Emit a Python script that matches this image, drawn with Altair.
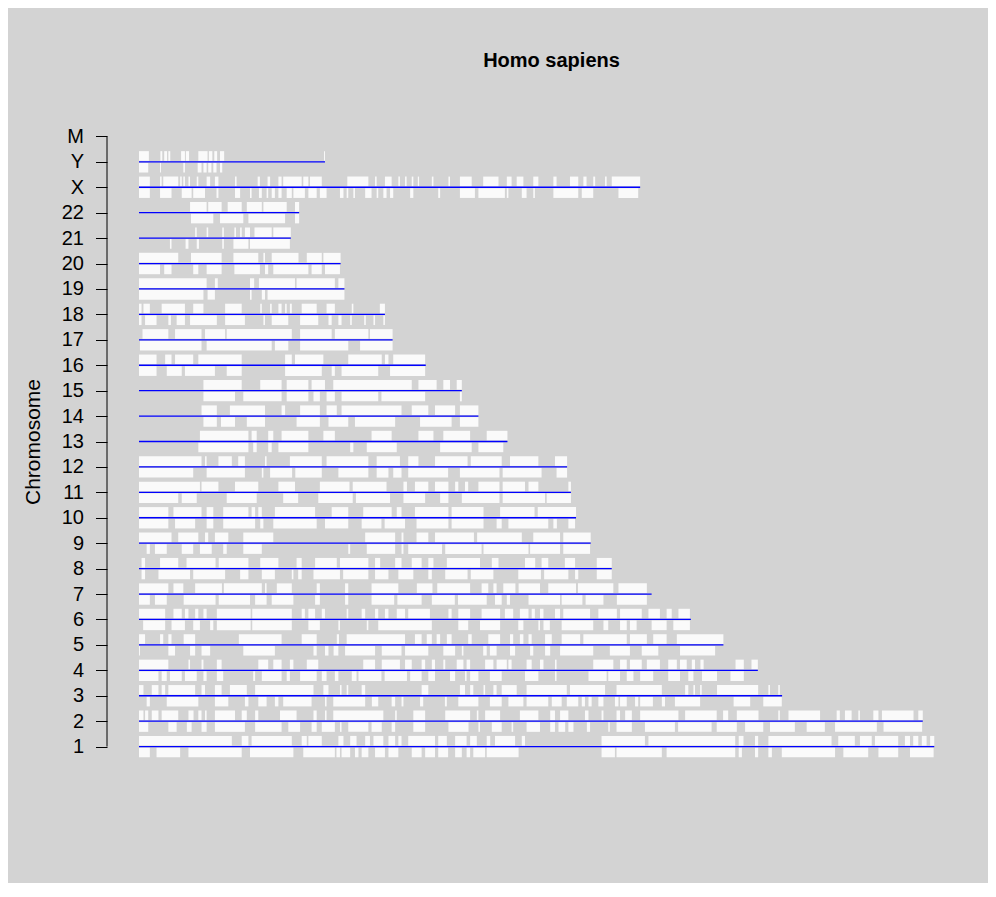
import altair as alt
import pandas as pd

# ---------------- data (positions in Mb) ----------------
chromosomes = ["1", "2", "3", "4", "5", "6", "7", "8", "9", "10", "11", "12",
               "13", "14", "15", "16", "17", "18", "19", "20", "21", "22", "X", "Y", "M"]
chrom_length_mb = [249.3, 245.7, 201.6, 194.0, 183.2, 173.0, 160.7, 148.2, 141.6, 137.0,
                   135.4, 134.2, 115.5, 106.4, 101.2, 89.9, 79.5, 77.1, 64.4, 63.2,
                   47.6, 50.2, 157.1, 58.3, 0.02]

plus_1 = [(0, 29.1), (32.2, 34.3), (35.3, 47.9), (51.0, 52.6), (53.1, 57.3), (62.5, 64.1), (66.2, 68.2),
          (70.9, 72.4), (73.5, 76.6), (78.2, 80.3), (81.3, 82.3), (84.4, 92.8), (93.8, 96.5), (99.1, 102.7),
          (103.8, 105.9), (109.0, 110.1), (111.6, 117.9), (120.0, 121.0), (145.0, 158.6), (159.7, 186.9),
          (188.0, 189.5), (193.1, 194.1), (197.3, 217.1), (219.2, 224.4), (226.0, 229.7), (230.7, 238.0),
          (240.1, 241.7), (242.7, 244.3), (245.4, 246.9), (248.0, 249.3)]
minus_1 = [(0, 3.4), (5.5, 12.9), (15.5, 32.2), (34.8, 48.4), (51.5, 61.4), (61.9, 63.0), (63.5, 66.2),
           (67.7, 68.8), (69.8, 71.9), (74.0, 77.1), (78.2, 81.3), (85.5, 88.6), (89.7, 92.8), (93.8, 96.9),
           (99.1, 101.2), (102.7, 103.8), (104.8, 108.5), (109.0, 119.0), (145.0, 149.2), (149.7, 163.9),
           (165.4, 186.9), (188.0, 189.0), (193.1, 194.1), (197.3, 198.4), (201.5, 218.2), (220.8, 228.6),
           (231.8, 238.0), (241.7, 249.1)]

plus_2 = [(0, 1.4), (1.9, 2.9), (4.0, 6.1), (7.1, 12.3), (15.5, 17.1), (18.6, 19.6), (20.7, 21.2), (23.8, 30.1),
          (32.2, 33.8), (36.4, 37.4), (44.2, 49.4), (54.7, 55.7), (58.3, 58.8), (60.9, 76.6), (80.3, 80.8),
          (86.0, 89.7), (96.0, 103.8), (105.9, 106.4), (108.5, 113.2), (119.4, 125.2), (128.9, 130.4),
          (132.0, 134.6), (139.8, 140.9), (145.0, 145.6), (149.7, 150.8), (152.4, 154.5), (157.1, 169.1),
          (171.2, 181.1), (183.1, 184.7), (187.4, 194.2), (200.4, 200.9), (203.6, 213.5), (218.7, 219.7),
          (221.3, 223.4), (225.5, 226.0), (230.2, 231.8), (232.9, 242.8), (244.3, 245.7)]
minus_2 = [(0, 2.9), (9.2, 11.8), (15.0, 16.5), (19.6, 21.2), (23.8, 33.2), (36.4, 44.7), (46.8, 50.5),
           (54.1, 55.7), (57.3, 61.4), (63.0, 63.5), (65.6, 71.9), (72.9, 76.1), (79.2, 80.3), (86.0, 89.7),
           (97.0, 103.3), (106.4, 106.9), (110.6, 113.7), (116.8, 117.3), (121.5, 125.7), (128.9, 130.4),
           (131.5, 133.6), (134.6, 136.2), (140.4, 141.4), (147.1, 147.6), (149.7, 154.5), (158.6, 168.0),
           (169.0, 179.5), (181.1, 187.4), (190.0, 195.7), (197.8, 205.6), (209.3, 215.0), (218.2, 231.3),
           (233.4, 245.5)]

plus_3 = [(0, 1.4), (4.0, 6.1), (7.1, 8.2), (9.2, 17.6), (19.6, 20.7), (23.8, 25.9), (28.5, 33.8), (36.4, 54.7),
          (57.8, 59.4), (63.0, 63.5), (65.1, 65.6), (69.8, 70.9), (88.6, 90.7), (100.6, 102.2), (103.8, 104.8),
          (108.0, 108.5), (111.1, 112.1), (113.7, 118.4), (121.5, 134.1), (135.1, 146.1), (149.7, 163.9),
          (171.2, 172.2), (173.8, 174.3), (175.9, 176.4), (181.2, 194.1), (197.3, 197.8), (200.4, 200.9)]
minus_3 = [(2.4, 3.4), (8.7, 18.6), (23.8, 28.0), (33.2, 34.3), (37.4, 40.0), (42.6, 43.7), (45.2, 54.1),
           (58.3, 58.8), (60.9, 70.9), (73.0, 75.0), (79.2, 80.3), (82.3, 82.9), (88.1, 89.1), (95.9, 96.5),
           (100.1, 106.4), (110.0, 113.7), (115.8, 120.5), (121.5, 128.3), (129.4, 132.5), (134.1, 137.7),
           (138.8, 139.8), (140.9, 141.9), (144.0, 145.6), (149.2, 150.3), (150.8, 152.9), (155.5, 156.5),
           (157.1, 161.1), (163.9, 164.9), (168.0, 175.9), (186.4, 191.6), (195.7, 201.5)]

plus_4 = [(0, 9.2), (15.5, 16.0), (19.6, 20.2), (24.4, 25.9), (37.4, 40.5), (42.1, 44.7), (47.3, 48.4),
          (52.6, 56.2), (70.3, 74.0), (76.1, 81.8), (83.4, 85.5), (88.6, 89.7), (91.8, 92.8), (95.4, 96.0),
          (99.6, 101.7), (102.7, 103.8), (108.5, 111.1), (112.1, 115.3), (115.8, 116.8), (121.5, 123.1),
          (125.7, 126.8), (130.4, 130.9), (142.4, 148.7), (150.8, 152.9), (153.9, 157.6), (159.2, 163.3),
          (165.9, 168.6), (169.6, 171.7), (173.3, 174.3), (176.0, 177.0), (187.0, 189.6), (192.0, 194.0)]
minus_4 = [(0, 6.1), (7.1, 8.7), (9.7, 13.4), (14.4, 18.1), (20.2, 21.2), (24.4, 26.4), (35.8, 36.4),
           (38.5, 44.7), (46.3, 47.3), (50.5, 55.7), (57.3, 58.8), (61.4, 62.5), (66.7, 68.2), (68.8, 76.0),
           (77.0, 84.0), (85.0, 88.6), (90.7, 92.8), (97.5, 99.1), (102.2, 102.7), (103.8, 106.4),
           (110.0, 113.7), (121.0, 125.2), (130.4, 130.9), (140.9, 146.6), (147.1, 150.8), (152.9, 155.0),
           (157.1, 161.2), (165.9, 169.6), (172.2, 173.8), (176.5, 181.2), (185.4, 189.6)]

plus_5 = [(0, 1.9), (6.6, 7.6), (9.2, 10.2), (14.0, 17.6), (31.3, 44.7), (51.0, 55.7), (62.0, 62.7),
          (65.1, 83.4), (86.5, 88.6), (90.2, 91.8), (93.3, 94.4), (96.5, 98.0), (103.2, 104.3), (109.5, 113.2),
          (116.3, 117.3), (119.4, 120.5), (122.1, 123.1), (127.3, 129.4), (132.5, 138.3), (139.3, 152.9),
          (153.9, 159.2), (161.2, 165.4), (168.6, 183.2)]
minus_5 = [(0, 0.3), (9.2, 11.3), (16.0, 17.6), (19.6, 22.3), (32.7, 42.6), (54.7, 55.7), (58.3, 59.4),
           (61.0, 62.5), (64.6, 74.0), (76.1, 82.3), (83.4, 90.7), (95.4, 99.1), (101.2, 101.7), (107.9, 109.0),
           (110.0, 112.1), (116.3, 117.9), (122.6, 123.6), (127.3, 128.9), (132.0, 142.4), (147.6, 153.9),
           (157.6, 162.8), (169.6, 180.6)]

plus_6 = [(0, 8.2), (10.8, 13.4), (14.4, 15.5), (17.6, 18.6), (20.2, 21.2), (24.4, 35.0), (35.5, 47.9),
          (51.0, 52.0), (53.1, 55.2), (57.3, 58.3), (65.1, 65.6), (69.8, 70.9), (74.0, 75.0), (77.1, 78.2),
          (80.8, 83.4), (84.4, 91.2), (97.0, 98.0), (100.1, 103.8), (107.4, 113.2), (114.7, 117.3),
          (119.4, 122.1), (123.1, 124.1), (125.7, 126.8), (130.4, 132.0), (133.0, 141.4), (144.0, 149.8),
          (150.8, 157.6), (159.7, 163.3), (165.4, 167.0), (169.1, 172.7)]
minus_6 = [(1.3, 8.2), (10.2, 14.4), (17.0, 19.1), (22.3, 23.3), (24.4, 35.0), (35.5, 47.9), (53.1, 56.7),
           (62.5, 63.0), (71.4, 71.9), (75.0, 91.8), (100.1, 103.2), (106.9, 113.2), (118.9, 120.5),
           (125.2, 125.7), (126.8, 128.8), (132.5, 142.4), (145.6, 147.1), (150.8, 152.9), (153.9, 156.0),
           (160.7, 165.4), (167.5, 172.7)]

plus_7 = [(0, 9.2), (10.8, 13.9), (17.6, 26.0), (26.6, 38.5), (39.5, 40.0), (43.2, 47.9), (55.7, 56.7),
          (64.6, 65.6), (72.9, 81.3), (87.1, 92.0), (93.5, 103.8), (107.4, 109.5), (111.1, 112.1),
          (114.2, 118.0), (119.0, 125.7), (128.3, 137.0), (137.6, 148.7), (150.3, 159.2)]
minus_7 = [(0, 3.4), (5.0, 8.7), (14.0, 24.0), (25.0, 34.8), (36.4, 40.0), (41.6, 48.4), (55.2, 56.7),
           (64.6, 65.6), (72.9, 80.0), (81.0, 88.6), (91.8, 99.0), (100.0, 109.0), (111.6, 113.7),
           (115.3, 116.3), (122.1, 132.0), (132.5, 139.0), (140.0, 145.6), (149.8, 159.2)]

plus_8 = [(0.8, 1.9), (6.6, 12.3), (14.9, 24.0), (25.0, 34.3), (38.0, 43.7), (49.4, 51.0), (55.2, 62.0),
          (63.0, 71.9), (74.0, 75.6), (80.3, 82.3), (85.5, 88.6), (90.7, 92.3), (96.5, 106.9), (110.6, 112.7),
          (121.0, 124.2), (126.2, 128.3), (133.5, 136.7), (143.5, 148.2)]
minus_8 = [(0.8, 1.9), (6.1, 16.0), (17.0, 27.0), (31.7, 34.3), (38.5, 42.6), (47.9, 48.4), (49.9, 51.0),
           (54.7, 63.0), (64.0, 71.9), (74.0, 78.2), (81.3, 86.0), (90.7, 91.8), (96.0, 103.0), (104.0, 111.1),
           (118.9, 126.0), (127.0, 134.6), (136.7, 137.7), (143.5, 148.2)]

plus_9 = [(0, 10.2), (12.3, 18.6), (20.7, 21.7), (23.8, 28.0), (32.7, 42.1), (70.9, 80.3), (82.3, 82.9),
          (87.0, 90.7), (92.8, 105.0), (106.0, 120.0), (123.6, 132.0), (133.0, 141.6)]
minus_9 = [(2.4, 3.4), (5.0, 8.7), (13.4, 17.0), (19.1, 22.8), (26.4, 27.5), (32.7, 38.5), (65.6, 66.2),
           (71.4, 80.3), (82.3, 82.9), (84.4, 95.0), (96.0, 107.4), (108.0, 122.1), (122.6, 132.0),
           (133.0, 141.4)]

plus_10 = [(0, 9.2), (10.8, 19.6), (21.2, 23.3), (26.4, 34.3), (35.3, 36.4), (37.4, 38.5), (42.6, 55.2),
           (60.4, 65.6), (70.3, 79.2), (80.8, 82.3), (86.5, 97.0), (98.0, 108.0), (113.2, 124.0), (125.0, 137.0)]
minus_10 = [(0, 9.2), (11.3, 17.6), (21.2, 23.3), (26.4, 36.4), (38.0, 39.0), (42.1, 55.7), (58.3, 65.6),
            (69.8, 76.0), (77.0, 83.4), (87.0, 97.0), (98.0, 108.0), (112.1, 113.7), (115.8, 128.3),
            (129.9, 131.0), (134.6, 136.7)]

plus_11 = [(0, 19.1), (19.6, 24.9), (30.1, 37.4), (43.7, 48.9), (56.7, 66.0), (67.0, 77.6), (82.9, 84.0),
           (86.5, 90.7), (92.8, 97.0), (99.1, 100.1), (102.2, 103.2), (106.4, 113.0), (114.0, 121.0),
           (122.1, 125.2), (134.6, 135.4)]
minus_11 = [(0, 12.3), (13.4, 18.1), (27.5, 36.9), (45.2, 49.9), (56.2, 67.0), (68.0, 78.7), (82.9, 89.7),
            (94.4, 97.0), (101.2, 113.0), (114.0, 127.3), (127.8, 135.4)]

plus_12 = [(0, 19.6), (20.7, 21.2), (24.9, 29.1), (31.1, 33.2), (39.5, 40.0), (47.3, 57.3), (58.8, 71.9),
           (74.5, 81.8), (84.4, 87.6), (92.8, 103.0), (104.0, 113.7), (116.3, 125.2), (130.4, 134.2)]
minus_12 = [(0, 17.0), (21.2, 33.2), (38.5, 39.0), (41.1, 48.0), (49.0, 57.3), (62.5, 71.9), (74.5, 78.2),
            (79.7, 82.3), (84.4, 96.9), (100.6, 113.0), (114.0, 126.2), (130.9, 134.2)]

plus_13 = [(19.1, 34.3), (35.3, 36.9), (40.5, 42.1), (44.7, 53.1), (57.8, 61.4), (72.9, 79.2), (87.6, 92.3),
           (95.4, 103.8), (109.0, 115.5)]
minus_13 = [(18.6, 34.3), (35.8, 36.9), (40.5, 41.6), (43.7, 53.1), (66.2, 67.2), (71.4, 80.8), (94.4, 104.3),
            (106.4, 114.2)]

plus_14 = [(19.6, 24.4), (28.5, 39.5), (44.7, 45.8), (50.5, 56.7), (58.8, 62.0), (63.5, 82.3), (85.5, 90.7),
           (92.8, 99.1), (100.6, 106.4)]
minus_14 = [(20.2, 24.4), (25.7, 30.1), (33.8, 39.5), (49.4, 56.7), (59.4, 65.6), (67.7, 80.3), (88.1, 98.0),
            (100.6, 106.4)]

plus_15 = [(20.2, 32.2), (38.0, 44.7), (46.3, 53.1), (54.1, 58.3), (60.9, 85.5), (87.6, 93.3), (95.4, 97.5),
           (99.6, 101.2)]
minus_15 = [(20.2, 30.1), (32.7, 44.7), (46.3, 53.1), (54.7, 56.7), (58.8, 61.4), (63.5, 75.0), (76.0, 89.7),
            (100.6, 101.2)]

plus_16 = [(0, 5.5), (8.2, 10.2), (11.3, 17.0), (18.6, 32.2), (45.8, 47.9), (48.9, 57.8), (65.6, 76.1),
           (77.1, 78.2), (79.7, 89.7)]
minus_16 = [(0, 5.5), (8.7, 13.4), (14.4, 23.8), (27.5, 32.2), (45.8, 57.3), (60.4, 61.4), (63.5, 75.0),
            (78.7, 89.7)]

plus_17 = [(1.1, 9.2), (11.3, 19.6), (20.7, 27.0), (27.5, 47.9), (50.5, 60.4), (61.4, 71.9), (72.4, 79.5)]
minus_17 = [(0.3, 19.6), (21.2, 41.6), (42.6, 46.8), (50.5, 65.6), (69.3, 79.5)]

plus_18 = [(0, 0.8), (1.4, 3.4), (7.1, 14.4), (17.0, 20.2), (27.0, 32.2), (38.0, 38.5), (41.1, 41.6),
           (43.7, 44.7), (45.8, 46.3), (47.3, 47.9), (51.0, 55.7), (58.8, 61.4), (66.7, 67.2), (75.5, 77.1)]
minus_18 = [(0, 0.8), (1.9, 5.5), (9.2, 10.0), (11.8, 14.4), (16.0, 24.4), (27.0, 33.2), (39.0, 39.5),
            (41.6, 46.8), (50.5, 56.2), (59.4, 60.4), (62.5, 63.5), (66.2, 66.7), (70.6, 71.1), (73.5, 74.0),
            (76.6, 77.1)]

plus_19 = [(0, 21.2), (23.8, 24.7), (34.8, 36.1), (37.6, 48.9), (49.4, 61.4), (62.5, 64.4)]
minus_19 = [(0, 20.2), (21.5, 23.8), (34.8, 35.3), (38.5, 39.5), (40.3, 64.4)]

plus_20 = [(0, 12.3), (16.3, 25.9), (29.6, 37.4), (39.0, 39.5), (41.6, 50.0), (52.6, 57.3), (57.8, 63.2)]
minus_20 = [(0, 6.6), (7.9, 10.2), (17.0, 18.6), (21.2, 25.9), (29.9, 37.9), (39.5, 40.5), (42.1, 53.1),
            (54.1, 57.3), (58.3, 63.0)]

plus_21 = [(17.6, 18.1), (21.2, 21.7), (26.1, 26.6), (29.9, 30.4), (31.7, 32.2), (33.2, 34.8), (36.2, 41.6),
           (42.1, 47.6)]
minus_21 = [(9.7, 10.2), (14.6, 15.5), (18.1, 18.8), (26.1, 26.6), (29.6, 34.3), (34.8, 47.3)]

plus_22 = [(16.0, 21.2), (21.7, 25.9), (27.8, 32.2), (33.8, 38.5), (39.0, 46.3), (48.9, 50.2)]
minus_22 = [(16.3, 23.3), (25.4, 32.7), (34.3, 45.8), (48.9, 50.2)]

plus_X = [(0, 3.4), (6.6, 7.1), (7.6, 12.3), (12.9, 13.4), (13.9, 14.4), (15.5, 16.0), (18.1, 18.6),
          (21.2, 22.3), (23.8, 24.9), (30.1, 30.6), (37.2, 37.9), (40.3, 41.1), (43.7, 44.7), (45.2, 51.0),
          (51.5, 53.1), (53.6, 57.3), (65.3, 71.9), (74.0, 74.5), (77.1, 79.2), (81.3, 81.8), (83.4, 83.9),
          (85.5, 86.0), (87.4, 87.8), (91.8, 92.3), (97.0, 97.5), (100.6, 104.3), (107.9, 112.7),
          (115.3, 116.8), (118.4, 120.5), (123.6, 125.2), (129.9, 130.9), (135.1, 137.7), (139.3, 140.3),
          (142.4, 143.0), (146.1, 146.6), (148.2, 157.1)]
minus_X = [(0, 3.4), (6.6, 10.2), (13.4, 16.5), (17.0, 20.7), (24.3, 24.9), (30.1, 31.7), (34.8, 35.3),
           (37.6, 38.5), (40.0, 40.5), (41.6, 42.6), (43.7, 44.7), (46.3, 47.9), (48.4, 52.0), (53.1, 55.7),
           (56.7, 58.8), (63.0, 64.1), (65.1, 65.6), (67.2, 67.7), (70.9, 72.9), (74.5, 75.0), (76.6, 77.6),
           (78.7, 79.7), (85.0, 86.0), (93.8, 94.4), (100.6, 105.3), (106.4, 114.7), (115.3, 115.8),
           (120.0, 121.5), (123.6, 124.1), (129.9, 137.7), (138.8, 142.4), (150.3, 156.5)]

plus_Y = [(0, 3.1), (6.7, 7.3), (7.9, 8.8), (9.2, 9.8), (13.2, 14.4), (14.7, 15.7), (18.6, 21.5), (21.9, 23.0),
          (23.6, 24.5), (25.4, 26.7), (58.0, 58.3)]
minus_Y = [(0, 2.9), (6.6, 6.9), (13.9, 14.4), (18.4, 19.6), (20.2, 21.2), (21.7, 22.7), (23.3, 24.3),
           (25.4, 26.1)]

plus_M = []
minus_M = []

# ---------------- build tables ----------------
plus_tracks = [plus_1, plus_2, plus_3, plus_4, plus_5, plus_6, plus_7, plus_8, plus_9, plus_10, plus_11,
               plus_12, plus_13, plus_14, plus_15, plus_16, plus_17, plus_18, plus_19, plus_20, plus_21,
               plus_22, plus_X, plus_Y, plus_M]
minus_tracks = [minus_1, minus_2, minus_3, minus_4, minus_5, minus_6, minus_7, minus_8, minus_9, minus_10,
                minus_11, minus_12, minus_13, minus_14, minus_15, minus_16, minus_17, minus_18, minus_19,
                minus_20, minus_21, minus_22, minus_X, minus_Y, minus_M]

TICK_NEAR, TICK_FAR = 0.04, 0.42  # tick band offsets from the chromosome line (in row units)

rows = []
for i, chrom in enumerate(chromosomes):
    pos = i + 1
    for sign, track in ((1, plus_tracks[i]), (-1, minus_tracks[i])):
        for s, e in track:
            rows.append({"chrom": chrom, "start": s, "end": e,
                         "yv": pos + sign * TICK_NEAR, "yv2": pos + sign * TICK_FAR})
genes = pd.DataFrame(rows)

lines = pd.DataFrame({"chrom": chromosomes[:-1],
                      "yv": [float(p) for p in range(1, len(chromosomes))],
                      "start": 0.0,
                      "end": chrom_length_mb[:-1]})
axis_line = pd.DataFrame({"yv": [1.0], "yv2": [float(len(chromosomes))]})

FONT = "Liberation Sans"
x_scale = alt.Scale(domain=[-10.03, 259.25], nice=False, zero=False)
y_scale = alt.Scale(domain=[0.04, 25.96], nice=False, zero=False)

label_array = "[" + ",".join("'" + c + "'" for c in chromosomes) + "]"
y_axis = alt.Axis(values=list(range(1, 26)), labelExpr=label_array + "[datum.value - 1]",
                  title="Chromosome", grid=False, domain=False,
                  tickColor="black", tickSize=11.5, tickWidth=1,
                  labelFont=FONT, labelFontSize=20, labelColor="black", labelPadding=12,
                  labelBaseline="middle",
                  titleFont=FONT, titleFontSize=21, titleFontWeight="normal", titleColor="black",
                  titleX=-74, titleY=329.5, titleBaseline="middle", titleAngle=270)

ticks = alt.Chart(genes).mark_rect(color="white", opacity=0.88).encode(
    x=alt.X("start:Q", scale=x_scale, axis=None),
    x2="end:Q",
    y=alt.Y("yv:Q", scale=y_scale, axis=y_axis),
    y2="yv2:Q",
)

chrom_lines = alt.Chart(lines).mark_rule(color="#0000ff", strokeWidth=1.3).encode(
    x=alt.X("start:Q", scale=x_scale, axis=None),
    x2="end:Q",
    y=alt.Y("yv:Q", scale=y_scale, axis=y_axis),
)

y_axis_line = alt.Chart(axis_line).mark_rule(color="black", strokeWidth=1).encode(
    x=alt.value(0),
    y=alt.Y("yv:Q", scale=y_scale, axis=y_axis),
    y2="yv2:Q",
)

chart = alt.layer(ticks, chrom_lines, y_axis_line).properties(
    width=859,
    height=659,
    title=alt.TitleParams("Homo sapiens", font=FONT, fontSize=20, fontWeight="bold", color="black",
                          anchor="middle", baseline="alphabetic", offset=25, dx=15),
    autosize=alt.AutoSizeParams(type="none"),
    padding={"left": 99, "top": 104, "right": 22, "bottom": 112},
    background="#d3d3d3",
).configure_view(stroke=None)

chart.save("out.html", embed_options={"renderer": "svg", "actions": False})
